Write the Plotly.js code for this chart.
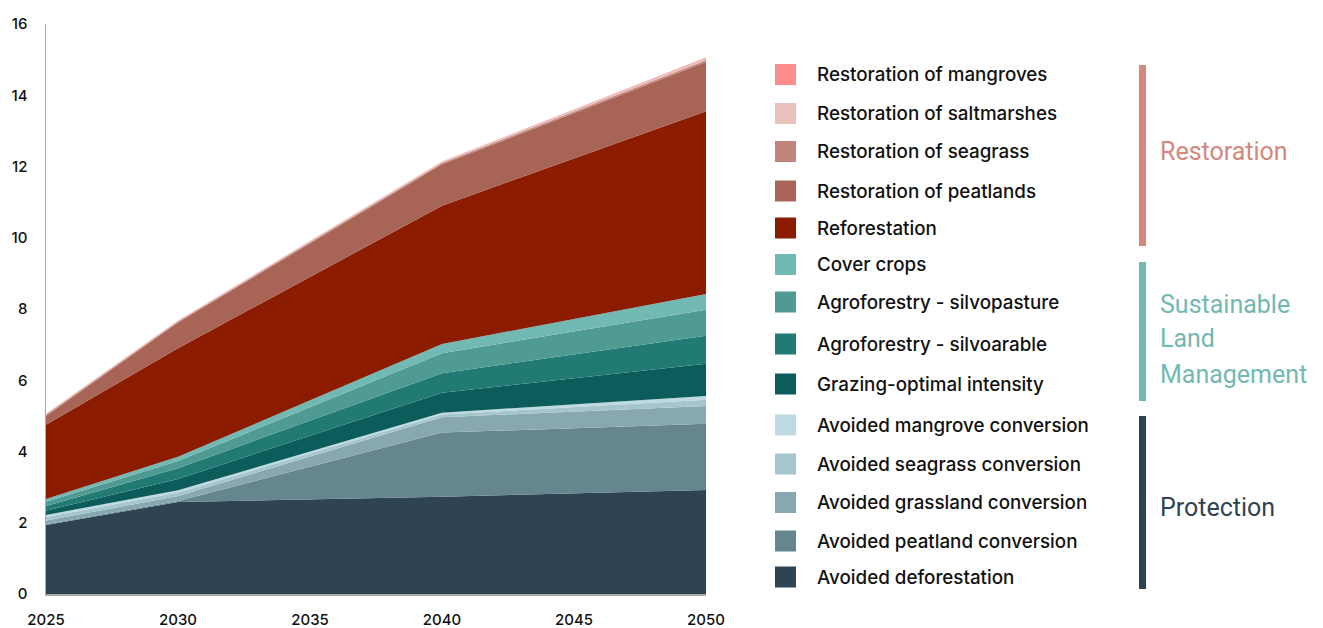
<!DOCTYPE html>
<html>
<head>
<meta charset="utf-8">
<script src="https://cdn.plot.ly/plotly-3.0.1.min.js"></script>
<style>
  html, body { margin: 0; padding: 0; background: #ffffff; }
  #chart { width: 1323px; height: 628px; }
</style>
</head>
<body>
<div id="chart"></div>
<script>
// ---- DATA ----
const years = [2025, 2030, 2040, 2050];

// Protection
const avoidedDeforestation        = [1.94, 2.58, 2.73, 2.92];
const avoidedPeatlandConversion   = [0.02, 0.03, 1.80, 1.86];
const avoidedGrasslandConversion  = [0.10, 0.14, 0.43, 0.50];
const avoidedSeagrassConversion   = [0.10, 0.10, 0.08, 0.17];
const avoidedMangroveConversion   = [0.06, 0.06, 0.05, 0.11];
// Sustainable land management
const grazingOptimalIntensity     = [0.12, 0.32, 0.56, 0.90];
const agroforestrySilvoarable     = [0.13, 0.30, 0.55, 0.79];
const agroforestrySilvopasture    = [0.12, 0.20, 0.56, 0.73];
const coverCrops                  = [0.08, 0.12, 0.26, 0.44];
// Restoration
const reforestation               = [2.08, 3.05, 3.88, 5.13];
const restorationPeatlands        = [0.25, 0.72, 1.16, 1.38];
const restorationSeagrass         = [0.03, 0.03, 0.04, 0.05];
const restorationSaltmarshes      = [0.02, 0.02, 0.03, 0.06];
const restorationMangroves        = [0.01, 0.01, 0.01, 0.02];

// series names (legend order top -> bottom)
const seriesNames = [
  "Restoration of mangroves",
  "Restoration of saltmarshes",
  "Restoration of seagrass",
  "Restoration of peatlands",
  "Reforestation",
  "Cover crops",
  "Agroforestry - silvopasture",
  "Agroforestry - silvoarable",
  "Grazing-optimal intensity",
  "Avoided mangrove conversion",
  "Avoided seagrass conversion",
  "Avoided grassland conversion",
  "Avoided peatland conversion",
  "Avoided deforestation"
];
const seriesValues = [
  restorationMangroves, restorationSaltmarshes, restorationSeagrass,
  restorationPeatlands, reforestation, coverCrops, agroforestrySilvopasture,
  agroforestrySilvoarable, grazingOptimalIntensity, avoidedMangroveConversion,
  avoidedSeagrassConversion, avoidedGrasslandConversion,
  avoidedPeatlandConversion, avoidedDeforestation
];
const groupNames = [["Restoration"], ["Sustainable", "Land", "Management"], ["Protection"]];
const xTickLabels = ["2025", "2030", "2035", "2040", "2045", "2050"];
const xTickVals = [2025, 2030, 2035, 2040, 2045, 2050];

// ---- STYLE ----
const seriesColors = [
  "#fd8c8c", "#e8c1bb", "#c0857d", "#a86557", "#8b1c00",
  "#72b8b3", "#4f9a93", "#217a74", "#0d5c5c",
  "#bcdadf", "#a5c5cf", "#87a8b0", "#65858f", "#2f4452"
];
const groupColors = ["#d4877a", "#72b8b3", "#2f4452"];
// legend rows (pixel centre y)
const legendRowY = [74.5, 113.5, 151.5, 191, 228, 264.5, 302, 344, 384, 425, 464, 502.5, 541, 577];
const groupBarsPx = [[65, 246], [262, 401], [416, 589]];
const groupLabelY = [[151], [304, 339, 374], [507]];

// ---- GEOMETRY ----
const W = 1323, H = 628;
const plotL = 46, plotR = 706, plotT = 24, plotB = 594;
const px2x = px => (px - plotL) / (plotR - plotL);
const px2y = py => (plotB - py) / (plotB - plotT);

// ---- TRACES (bottom of stack first) ----
const traces = [];
for (let i = seriesNames.length - 1; i >= 0; i--) {
  traces.push({
    type: "scatter",
    mode: "none",
    x: years,
    y: seriesValues[i],
    name: seriesNames[i],
    stackgroup: "one",
    fillcolor: seriesColors[i],
    line: { width: 0, shape: "linear" },
    hoverinfo: "x+y+name",
    showlegend: false
  });
}

// ---- CUSTOM LEGEND ----
const shapes = [];
const annotations = [];
seriesNames.forEach((name, i) => {
  const cy = legendRowY[i];
  shapes.push({
    type: "rect", xref: "paper", yref: "paper",
    x0: px2x(775), x1: px2x(796),
    y0: px2y(cy + 10.5), y1: px2y(cy - 10.5),
    fillcolor: seriesColors[i], line: { width: 0 }
  });
  annotations.push({
    xref: "paper", yref: "paper",
    x: px2x(815), y: px2y(cy),
    xanchor: "left", yanchor: "middle",
    text: name, showarrow: false,
    font: { family: "Inter, Roboto, sans-serif", size: 18.8, color: "#111111", weight: 500 }
  });
});

groupNames.forEach((lines, i) => {
  const [t, b] = groupBarsPx[i];
  shapes.push({
    type: "rect", xref: "paper", yref: "paper",
    x0: px2x(1139), x1: px2x(1146),
    y0: px2y(b), y1: px2y(t),
    fillcolor: groupColors[i], line: { width: 0 }
  });
  lines.forEach((ln, j) => {
    annotations.push({
      xref: "paper", yref: "paper",
      x: px2x(1158), y: px2y(groupLabelY[i][j]),
      xanchor: "left", yanchor: "middle", align: "left",
      text: ln, showarrow: false,
      font: { family: "Roboto, sans-serif", size: 25, color: groupColors[i] }
    });
  });
});

const tickFont = { family: "Inter, Roboto, sans-serif", size: 15, color: "#111111", weight: 500 };

const layout = {
  width: W, height: H,
  margin: { l: plotL, r: W - plotR, t: plotT, b: H - plotB, pad: 0 },
  paper_bgcolor: "#ffffff",
  plot_bgcolor: "#ffffff",
  showlegend: false,
  font: { family: "Inter, Roboto, sans-serif", color: "#111111" },
  xaxis: {
    range: [2025, 2050],
    tickmode: "array",
    tickvals: xTickVals,
    ticktext: xTickLabels,
    showgrid: false, zeroline: false,
    showline: true, linecolor: "#aaaaaa", linewidth: 1.5,
    ticks: "", ticklabelstandoff: 11,
    tickfont: tickFont,
    fixedrange: true
  },
  yaxis: {
    range: [0, 16],
    dtick: 2, tick0: 0,
    showgrid: false, zeroline: false,
    showline: true, linecolor: "#aaaaaa", linewidth: 1.5,
    ticks: "", ticklabelstandoff: 14,
    tickfont: tickFont,
    fixedrange: true
  },
  shapes: shapes,
  annotations: annotations
};

Plotly.newPlot("chart", traces, layout, { displayModeBar: false, staticPlot: true });
</script>
</body>
</html>
